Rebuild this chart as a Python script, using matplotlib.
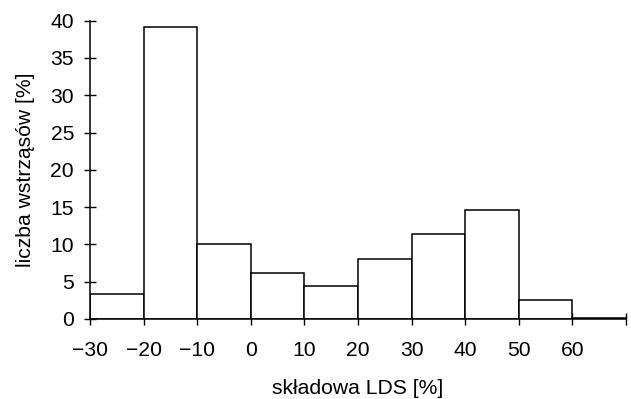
import matplotlib
matplotlib.use("Agg")
import matplotlib.pyplot as plt

plt.rcParams['font.family'] = ['Liberation Sans', 'DejaVu Sans']

bin_edges = [-30, -20, -10, 0, 10, 20, 30, 40, 50, 60, 70]
percent = [3.3, 39.2, 10.0, 6.2, 4.4, 8.0, 11.4, 14.65, 2.5, 0.2]
xticks = [-30, -20, -10, 0, 10, 20, 30, 40, 50, 60, 70]
xticklabels = ['\u221230', '\u221220', '\u221210', '0', '10', '20', '30', '40', '50', '60', '']
yticks = [0, 5, 10, 15, 20, 25, 30, 35, 40]

fig = plt.figure(figsize=(6.31, 3.99), dpi=100)
ax = fig.add_axes([90/631, 1-319/399, (626-90)/631, (319-20.7)/399])

lefts = bin_edges[:-1]
widths = [bin_edges[i+1]-bin_edges[i] for i in range(len(lefts))]
ax.bar(lefts, percent, width=widths, align='edge', facecolor='white',
       edgecolor='black', linewidth=1.1, zorder=2)

ax.set_xlim(-30, 70)
ax.set_ylim(0, 40)
ax.set_xticks(xticks)
ax.set_xticklabels(xticklabels)
ax.set_yticks(yticks)
ax.tick_params(direction='inout', length=9, width=1.0, labelsize=15.2)
ax.tick_params(axis='y', pad=7)
ax.tick_params(axis='x', pad=11)
for s in ['top', 'right']:
    ax.spines[s].set_visible(False)
for s in ['left', 'bottom']:
    ax.spines[s].set_linewidth(1.1)
    ax.spines[s].set_zorder(3)

ax.set_xlabel('składowa LDS [%]', fontsize=15.2, labelpad=14)
ax.set_ylabel('liczba wstrząsów [%]', fontsize=15.2, labelpad=11)

fig.savefig('out.png', dpi=100)
